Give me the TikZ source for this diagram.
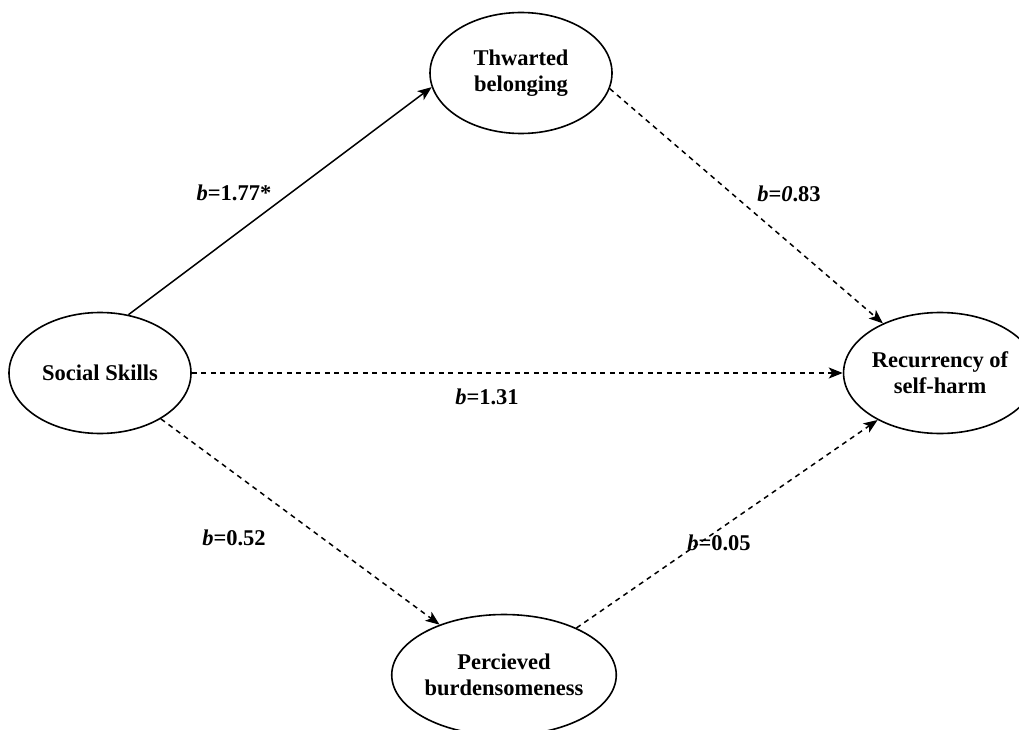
\documentclass[tikz,border=0pt]{standalone}
\usepackage{fontspec}
\setmainfont{Liberation Serif}
\usetikzlibrary{shapes.geometric,arrows.meta}
\begin{document}
\begin{tikzpicture}[x=1pt,y=-1pt,
  var/.style={ellipse,draw,line width=1.6pt,minimum width=182pt,minimum height=121pt,inner sep=0pt,align=center,font=\fontsize{22.5}{26}\selectfont\bfseries},
  lab/.style={font=\fontsize{22.5}{26}\selectfont\bfseries,inner sep=0pt},
  conn/.style={line width=1.5pt,-{Stealth[length=14pt,width=11pt,inset=3.5pt]}},
  dconn/.style={conn,dash pattern=on 5pt off 4.5pt}]
\useasboundingbox (0,0) rectangle (1019,730);
\clip (0,0) rectangle (1019,730);
\node[var] (ss) at (100,373) {Social Skills};
\node[var] (tb) at (521,73) {Thwarted\\belonging};
\node[var] (rs) at (940,373) {Recurrency of\\self-harm};
\node[var] (pb) at (504,675) {Percieved\\burdensomeness};
\draw[conn] (ss.64) -- (tb.189);
\draw[dconn] (tb.-10) -- (rs.139);
\draw[dconn] (ss.east) -- (rs.west);
\draw[dconn] (ss.-37) -- (pb.142);
\draw[dconn] (pb.33) -- (rs.217);
\node[lab] (l1) at (234,193) {\textit{b}=1.77*};
\node[lab] (l2) at (789,194) {\textit{b}=\textit{0}.83};
\node[lab] (l3) at (487,397) {\textit{b}=1.31};
\node[lab] (l4) at (234,538) {\textit{b}=0.52};
\node[lab] (l5) at (719,543) {\textit{b}=0.05};
\end{tikzpicture}
\end{document}
